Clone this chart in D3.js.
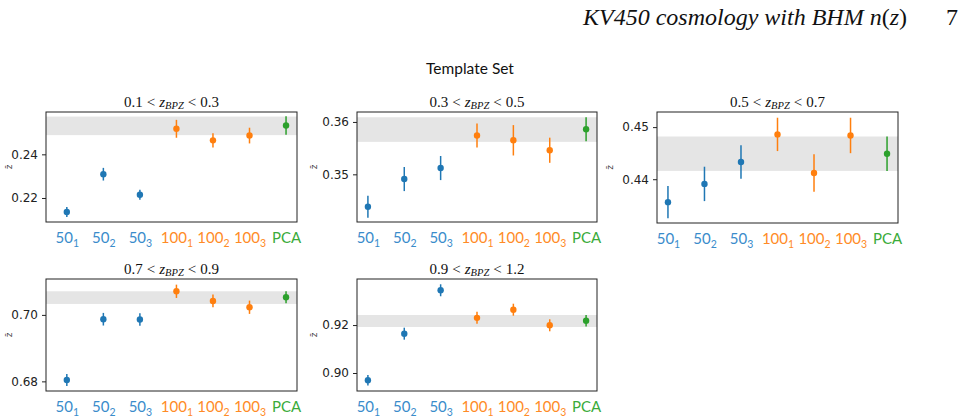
<!DOCTYPE html>
<html>
<head>
<meta charset="utf-8">
<script src="https://cdn.jsdelivr.net/npm/d3@7"></script>
<style>
  html, body { margin: 0; padding: 0; background: #fff; }
  svg { display: block; }
</style>
</head>
<body>
<svg id="chart" width="965" height="420"></svg>
<script>
// ---------------- DATA ----------------
const categories = ["50_1", "50_2", "50_3", "100_1", "100_2", "100_3", "PCA"];
const categoryGroup = ["50", "50", "50", "100", "100", "100", "PCA"];
const binTitles = [["0.1", "0.3"], ["0.3", "0.5"], ["0.5", "0.7"], ["0.7", "0.9"], ["0.9", "1.2"]];

const zMean1 = [0.2136, 0.2309, 0.2215, 0.2517, 0.2464, 0.2486, 0.2532];
const zErr1  = [0.0023, 0.0029, 0.0023, 0.0041, 0.0033, 0.0036, 0.0042];
const band1  = [0.2488, 0.2573];
const yTicks1 = [0.22, 0.24];
const yDomain1 = [0.2090, 0.2594];

const zMean2 = [0.3438, 0.3491, 0.3512, 0.3574, 0.3565, 0.3546, 0.3586];
const zErr2  = [0.0021, 0.0023, 0.0023, 0.0023, 0.0029, 0.0024, 0.0023];
const band2  = [0.3562, 0.3609];
const yTicks2 = [0.35, 0.36];
const yDomain2 = [0.3409, 0.3619];

const zMean3 = [0.4356, 0.4391, 0.4433, 0.4486, 0.4412, 0.4484, 0.4449];
const zErr3  = [0.0031, 0.0033, 0.0032, 0.0032, 0.0036, 0.0034, 0.0033];
const band3  = [0.4416, 0.4482];
const yTicks3 = [0.44, 0.45];
const yDomain3 = [0.4316, 0.4529];

const zMean4 = [0.6804, 0.6987, 0.6986, 0.7071, 0.7042, 0.7023, 0.7053];
const zErr4  = [0.0018, 0.0019, 0.0019, 0.0020, 0.0019, 0.0020, 0.0018];
const band4  = [0.7033, 0.7071];
const yTicks4 = [0.68, 0.70];
const yDomain4 = [0.6771, 0.7108];

const zMean5 = [0.8970, 0.9164, 0.9345, 0.9230, 0.9264, 0.9199, 0.9218];
const zErr5  = [0.0022, 0.0025, 0.0025, 0.0025, 0.0025, 0.0025, 0.0024];
const band5  = [0.9192, 0.9242];
const yTicks5 = [0.90, 0.92];
const yDomain5 = [0.8925, 0.9392];

const headerText = "KV450 cosmology with BHM";
const pageNumber = "7";
const suptitle = "Template Set";

// ---------------- STYLE / LAYOUT ----------------
const groupColor = { "50": "#1f77b4", "100": "#ff7f0e", "PCA": "#2ca02c" };
const labelColor = { "50": "#3a8ccb", "100": "#ff8b26", "PCA": "#3aab3a" };

const layout = [
  { left: 46,  right: 297, top: 112, bottom: 222, xd: [-0.57, 6.3], ylab: 9 },
  { left: 357, right: 597, top: 112, bottom: 222, xd: [-0.3, 6.3],  ylab: 314 },
  { left: 657, right: 898, top: 112, bottom: 223, xd: [-0.3, 6.3],  ylab: 610 },
  { left: 46,  right: 297, top: 279, bottom: 391, xd: [-0.57, 6.3], ylab: 9 },
  { left: 357, right: 597, top: 279, bottom: 391, xd: [-0.3, 6.3],  ylab: 314 }
];

const bins = [
  { mean: zMean1, err: zErr1, band: band1, ticks: yTicks1, dom: yDomain1 },
  { mean: zMean2, err: zErr2, band: band2, ticks: yTicks2, dom: yDomain2 },
  { mean: zMean3, err: zErr3, band: band3, ticks: yTicks3, dom: yDomain3 },
  { mean: zMean4, err: zErr4, band: band4, ticks: yTicks4, dom: yDomain4 },
  { mean: zMean5, err: zErr5, band: band5, ticks: yTicks5, dom: yDomain5 }
];

const svg = d3.select("#chart");

// Header
const hdr = svg.append("text")
  .attr("x", 907).attr("y", 25)
  .attr("text-anchor", "end")
  .style("font-family", "'Liberation Serif', 'DejaVu Serif', serif")
  .style("font-size", "24px")
  .style("font-style", "italic")
  .attr("fill", "#111");
hdr.append("tspan").text(headerText + " n");
hdr.append("tspan").style("font-style", "normal").text("(");
hdr.append("tspan").text("z");
hdr.append("tspan").style("font-style", "normal").text(")");

svg.append("text")
  .attr("x", 952).attr("y", 25)
  .attr("text-anchor", "middle")
  .style("font-family", "'Liberation Serif', serif")
  .style("font-size", "24px")
  .attr("fill", "#111")
  .text(pageNumber);

// Suptitle
svg.append("text")
  .attr("x", 470).attr("y", 74)
  .attr("text-anchor", "middle")
  .style("font-family", "Lato, 'Open Sans', sans-serif")
  .style("font-size", "15.5px")
  .attr("fill", "#111")
  .text(suptitle);

bins.forEach((b, i) => {
  const L = layout[i];
  const x = d3.scaleLinear().domain(L.xd).range([L.left, L.right]);
  const y = d3.scaleLinear().domain(b.dom).range([L.bottom, L.top]);
  const g = svg.append("g");

  // band
  g.append("rect")
    .attr("x", L.left).attr("width", L.right - L.left)
    .attr("y", y(b.band[1])).attr("height", y(b.band[0]) - y(b.band[1]))
    .attr("fill", "#e5e5e5");

  // y axis
  const yAxis = d3.axisLeft(y).tickValues(b.ticks).tickFormat(d3.format(".2f"))
    .tickSize(4).tickPadding(4);
  const ya = g.append("g").attr("transform", `translate(${L.left},0)`).call(yAxis);
  ya.select(".domain").remove();
  ya.selectAll("line").attr("stroke", "#222");
  ya.selectAll("text")
    .style("font-family", "'DejaVu Sans', sans-serif")
    .style("font-size", "12px")
    .attr("fill", "#222");

  // x axis labels
  const xAxis = d3.axisBottom(x).tickValues(d3.range(categories.length))
    .tickSize(0).tickPadding(0).tickFormat("");
  const xa = g.append("g").attr("transform", `translate(0,${L.bottom})`).call(xAxis);
  xa.select(".domain").remove();
  xa.selectAll(".tick").each(function (d) {
    const cat = categories[d];
    const parts = cat.split("_");
    const t = d3.select(this).append("text")
      .attr("y", 21)
      .attr("text-anchor", "middle")
      .style("font-family", "Lato, 'Open Sans', sans-serif")
      .style("font-size", "15px")
      .attr("fill", labelColor[categoryGroup[d]]);
    t.append("tspan").text(parts[0]);
    if (parts[1]) {
      t.append("tspan").attr("dy", 3.5).style("font-size", "10.5px").text(parts[1]);
    }
  });

  // error bars
  g.selectAll(".eb").data(b.mean).enter().append("line")
    .attr("x1", (d, j) => x(j)).attr("x2", (d, j) => x(j))
    .attr("y1", (d, j) => y(d - b.err[j])).attr("y2", (d, j) => y(d + b.err[j]))
    .attr("stroke", (d, j) => groupColor[categoryGroup[j]])
    .attr("stroke-width", 1.5);

  // points
  g.selectAll(".pt").data(b.mean).enter().append("circle")
    .attr("cx", (d, j) => x(j)).attr("cy", d => y(d))
    .attr("r", 3.2)
    .attr("fill", (d, j) => groupColor[categoryGroup[j]]);

  // frame
  g.append("rect")
    .attr("x", L.left).attr("y", L.top)
    .attr("width", L.right - L.left).attr("height", L.bottom - L.top)
    .attr("fill", "none").attr("stroke", "#222").attr("stroke-width", 1);

  // title
  const tt = g.append("text")
    .attr("x", (L.left + L.right) / 2).attr("y", L.top - 5.5)
    .attr("text-anchor", "middle")
    .style("font-family", "'Liberation Serif', 'DejaVu Serif', serif")
    .style("font-size", "15px")
    .attr("fill", "#111");
  tt.append("tspan").text(binTitles[i][0]);
  tt.append("tspan").attr("dx", 4).text("<");
  tt.append("tspan").attr("dx", 4).style("font-style", "italic").text("z");
  tt.append("tspan").attr("dy", 2.5).style("font-style", "italic").style("font-size", "10.5px").text("BPZ");
  tt.append("tspan").attr("dy", -2.5).attr("dx", 4).text("<");
  tt.append("tspan").attr("dx", 4).text(binTitles[i][1]);

  // y label (z bar)
  g.append("text")
    .attr("transform", `translate(${L.ylab + 3},${(L.top + L.bottom) / 2}) rotate(-90)`)
    .attr("text-anchor", "middle")
    .style("font-family", "'DejaVu Sans', sans-serif")
    .style("font-size", "9px")
    .attr("fill", "#333")
    .text("z\u0304");
});
</script>
</body>
</html>
